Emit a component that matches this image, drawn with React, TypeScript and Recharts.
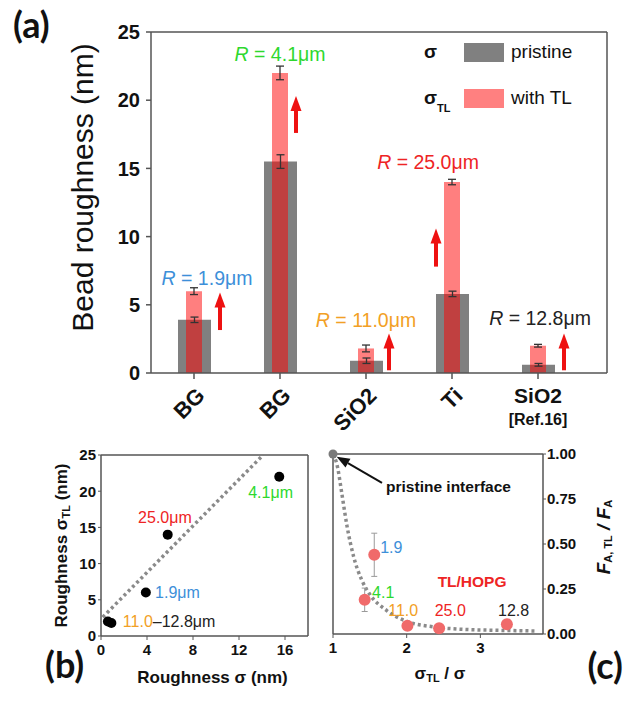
import React from "react";
import {
  Bar,
  ComposedChart,
  ErrorBar,
  Legend,
  Line,
  ReferenceLine,
  Scatter,
  XAxis,
  YAxis,
} from "recharts";

const FONT = "'Liberation Sans', Arial, sans-serif";
const AXIS = "#555";
const INK = "#111";

// (a) bead roughness, one entry per bead
const samples = ["BG", "BG", "SiO2", "Ti", "SiO2"];
const sampleNotes = ["", "", "", "", "[Ref.16]"];
const pristine = [3.9, 15.5, 0.9, 5.8, 0.6];
const pristineErr = [0.2, 0.5, 0.2, 0.2, 0.1];
const withTL = [6.0, 22.0, 1.8, 14.0, 2.0];
const withTLErr = [0.25, 0.5, 0.25, 0.2, 0.1];
const beadR = ["1.9", "4.1", "11.0", "25.0", "12.8"];
const rColors = ["#3d8fd9", "#2ed82e", "#f2a025", "#ee2424", "#222222"];
const arrowFrom = [3.15, 17.6, 0.2, 7.8, 0.2];
const arrowTo = [5.9, 20.3, 2.9, 10.6, 2.9];
const rLabelAt = [7.0, 23.4, 3.9, 15.5, 4.0];
const yTicksA = [0, 5, 10, 15, 20, 25];
const minorA = [2.5, 5, 7.5, 10, 12.5, 15, 17.5, 20, 22.5];
const halfSlots = [0.5, 1, 1.5, 2, 2.5, 3, 3.5, 4, 4.5, 5];

// pixel nudges for the annotations (style only)
const arrowDx = [26, 16, 23, -16, 26];
const labelDx = [13, 0, 0, -24, 2];

// (b) fit line
const fitSigma = [0.15, 14.1];
const fitSigmaTL = [2.6, 25];
const xTicksB = [0, 4, 8, 12, 16];

// (c) adhesion force ratio vs roughness ratio (R = 1.9, 4.1, 11.0, 25.0, 12.8)
const roughRatio = [1.56, 1.43, 2.01, 2.44, 3.36];
const forceRatio = [0.44, 0.19, 0.046, 0.032, 0.054];
const forceErr = [0.12, 0.065, 0.012, 0.01, 0.015];
const curveX = [1.0, 1.06, 1.12, 1.19, 1.28, 1.39, 1.5, 1.73, 2.0, 2.36, 2.81, 3.3, 3.75];
const curveY = [1.0, 0.93, 0.78, 0.6, 0.43, 0.3, 0.22, 0.13, 0.07, 0.04, 0.025, 0.02, 0.017];
const yTicksC = [0, 0.25, 0.5, 0.75, 1];

const dataA = samples.map((name, i) => ({
  name,
  i,
  slot: i + 0.5,
  pristine: pristine[i],
  pErr: pristineErr[i],
  tl: withTL[i],
  tlErr: withTLErr[i],
  arrow: [arrowFrom[i], arrowTo[i]],
  labelY: rLabelAt[i],
}));

const pointsB = pristine.map((x, i) => ({ x, y: withTL[i] }));
const fitB = fitSigma.map((x, i) => ({ x, y: fitSigmaTL[i] }));
const colorOf = (r: string) => rColors[beadR.indexOf(r)];

const labelsB = [
  { x: 5.56, y: 16.4, anchor: "middle", parts: [["25.0μm", colorOf("25.0")]] },
  { x: 12.8, y: 19.9, anchor: "start", parts: [["4.1μm", colorOf("4.1")]] },
  { x: 4.7, y: 6.1, anchor: "start", parts: [["1.9μm", colorOf("1.9")]] },
  { x: 1.9, y: 2.1, anchor: "start", parts: [["11.0", colorOf("11.0")], ["–12.8μm", colorOf("12.8")]] },
];

const pointsC = roughRatio.map((x, i) => ({ x, y: forceRatio[i], err: forceErr[i] }));
const curveC = curveX.map((x, i) => ({ x, y: curveY[i] }));
const labelsC = [
  { x: 1.64, y: 0.478, text: "1.9", color: colorOf("1.9"), bold: false },
  { x: 1.53, y: 0.233, text: "4.1", color: colorOf("4.1"), bold: false },
  { x: 1.75, y: 0.133, text: "11.0", color: colorOf("11.0"), bold: false },
  { x: 2.38, y: 0.133, text: "25.0", color: colorOf("25.0"), bold: false },
  { x: 3.24, y: 0.133, text: "12.8", color: colorOf("12.8"), bold: false },
  { x: 2.42, y: 0.29, text: "TL/HOPG", color: "#ee2424", bold: true },
  { x: 1.72, y: 0.82, text: "pristine interface", color: INK, bold: true },
];

function ArrowShape(props: any) {
  const { x, y, width, height, payload } = props;
  const cx = x + width / 2 + arrowDx[payload.i];
  const head = 15;
  return (
    <g fill="#ee1111">
      <rect x={cx - 2} y={y + head - 1} width={4} height={Math.max(0, height - head + 1)} />
      <polygon points={`${cx - 5.5},${y + head} ${cx},${y} ${cx + 5.5},${y + head}`} />
    </g>
  );
}

function RLabel(props: any) {
  const { cx, cy, payload } = props;
  const i = payload.i;
  return (
    <text
      x={cx + labelDx[i]}
      y={cy}
      textAnchor="middle"
      dominantBaseline="central"
      fontSize={19.5}
      fill={rColors[i]}
    >
      <tspan fontStyle="italic">R</tspan>
      <tspan>{` = ${beadR[i]}μm`}</tspan>
    </text>
  );
}

function SampleTick(props: any) {
  const { x, y, index } = props;
  const name = samples[index];
  if (sampleNotes[index]) {
    return (
      <g fontWeight={700} fill={INK} textAnchor="middle">
        <text x={x} y={y + 23} fontSize={21}>{name}</text>
        <text x={x} y={y + 45} fontSize={16}>{sampleNotes[index]}</text>
      </g>
    );
  }
  const ax = x + 12;
  const ay = y + 17;
  return (
    <text
      x={ax}
      y={ay}
      transform={`rotate(-45 ${ax} ${ay})`}
      textAnchor="end"
      fontSize={22}
      fontWeight={700}
      fill={INK}
    >
      {name}
    </text>
  );
}

const legendRows = [
  { sub: "", fill: "#808080", text: "pristine" },
  { sub: "TL", fill: "#ff8080", text: "with TL" },
];

function LegendA() {
  return (
    <div style={{ display: "flex", flexDirection: "column", gap: 18, fontFamily: FONT }}>
      {legendRows.map((r) => (
        <div key={r.text} style={{ display: "flex", alignItems: "center", height: 28 }}>
          <div style={{ width: 40, fontSize: 19, fontWeight: 700, color: INK, paddingLeft: 6 }}>
            σ
            {r.sub && (
              <span style={{ fontSize: 11, position: "relative", top: 8 }}>{r.sub}</span>
            )}
          </div>
          <div style={{ width: 40, height: 19, background: r.fill }} />
          <div style={{ marginLeft: 7, fontSize: 19, color: INK }}>{r.text}</div>
        </div>
      ))}
    </div>
  );
}

function TextMark(props: any) {
  const { cx, cy, payload } = props;
  return (
    <text x={cx} y={cy} textAnchor={payload.anchor} dominantBaseline="central" fontSize={16}>
      {payload.parts.map(([t, c]: [string, string]) => (
        <tspan key={t} fill={c}>
          {t}
        </tspan>
      ))}
    </text>
  );
}

function TextMarkC(props: any) {
  const { cx, cy, payload } = props;
  return (
    <text
      x={cx}
      y={cy}
      dominantBaseline="central"
      fontSize={payload.bold ? 15.5 : 16}
      fontWeight={payload.bold ? 700 : 400}
      fill={payload.color}
    >
      {payload.text}
    </text>
  );
}

function Dot(props: any) {
  const { cx, cy, fill, r = 5 } = props;
  return <circle cx={cx} cy={cy} r={r} fill={fill} />;
}

function PointerShape(props: any) {
  const { x1, y1, x2, y2 } = props;
  const ang = Math.atan2(y2 - y1, x2 - x1);
  const len = 13;
  const w = 5;
  const bx = x2 - len * Math.cos(ang);
  const by = y2 - len * Math.sin(ang);
  const nx = -Math.sin(ang) * w;
  const ny = Math.cos(ang) * w;
  return (
    <g>
      <line x1={x1} y1={y1} x2={bx} y2={by} stroke="#111" strokeWidth={2} />
      <polygon points={`${x2},${y2} ${bx + nx},${by + ny} ${bx - nx},${by - ny}`} fill="#111" />
    </g>
  );
}

const tickBold = (size: number) => ({ fontSize: size, fontWeight: 700, fill: INK });
const axisLine = { stroke: AXIS, strokeWidth: 1.5 };

export default function App() {
  return (
    <div
      style={{
        position: "absolute",
        left: 0,
        top: 0,
        width: 624,
        height: 704,
        background: "#fff",
        fontFamily: FONT,
      }}
    >
      {/* (a) */}
      <div style={{ position: "absolute", left: 0, top: 0 }}>
        <ComposedChart width={624} height={450} data={dataA} margin={{ top: 32, right: 17, bottom: 0, left: 0 }}>
          <XAxis
            xAxisId="a"
            dataKey="name"
            height={77}
            interval={0}
            padding={{ left: 0, right: 26 }}
            axisLine={axisLine}
            tickLine={{ stroke: AXIS, strokeWidth: 1.5 }}
            tickSize={6}
            tickMargin={1}
            tick={<SampleTick />}
          />
          <XAxis xAxisId="tl" dataKey="name" hide padding={{ left: 0, right: 26 }} />
          <XAxis xAxisId="arr" dataKey="name" hide padding={{ left: 0, right: 26 }} />
          <XAxis
            xAxisId="top"
            dataKey="slot"
            type="number"
            orientation="top"
            domain={[0, 5.3]}
            ticks={halfSlots}
            height={1}
            mirror
            axisLine={axisLine}
            tickLine={{ stroke: AXIS, strokeWidth: 1.2 }}
            tickSize={5}
            tick={false}
          />
          <YAxis
            yAxisId="l"
            width={151}
            domain={[0, 25]}
            ticks={yTicksA}
            axisLine={axisLine}
            tickLine={{ stroke: AXIS, strokeWidth: 1.5 }}
            tickSize={5}
            tickMargin={6}
            tick={tickBold(20)}
            label={(p: any) => {
              const vb = p.viewBox;
              const cx = vb.x + 82;
              const cy = vb.y + vb.height / 2 - 15;
              return (
                <text
                  x={cx}
                  y={cy}
                  transform={`rotate(-90 ${cx} ${cy})`}
                  textAnchor="middle"
                  dominantBaseline="central"
                  fontSize={30}
                  fill={INK}
                >
                  Bead roughness (nm)
                </text>
              );
            }}
          />
          <YAxis
            yAxisId="r"
            orientation="right"
            width={1}
            domain={[0, 25]}
            ticks={minorA}
            mirror
            axisLine={axisLine}
            tickLine={{ stroke: AXIS, strokeWidth: 1.2 }}
            tickSize={5}
            tick={false}
          />
          <Legend
            layout="vertical"
            align="center"
            verticalAlign="middle"
            wrapperStyle={{ top: 38, left: 418, width: 200, height: 80 }}
            content={<LegendA />}
          />
          <Bar
            xAxisId="a"
            yAxisId="l"
            dataKey="pristine"
            name="pristine"
            fill="#808080"
            barSize={33}
            isAnimationActive={false}
          >
            <ErrorBar dataKey="pErr" width={4} stroke="#333" strokeWidth={1.3} isAnimationActive={false} />
          </Bar>
          <Bar
            xAxisId="tl"
            yAxisId="l"
            dataKey="tl"
            name="with TL"
            fill="#ff0000"
            fillOpacity={0.5}
            barSize={16}
            isAnimationActive={false}
          >
            <ErrorBar dataKey="tlErr" width={4} stroke="#333" strokeWidth={1.3} isAnimationActive={false} />
          </Bar>
          <Bar
            xAxisId="arr"
            yAxisId="l"
            dataKey="arrow"
            legendType="none"
            barSize={10}
            shape={<ArrowShape />}
            isAnimationActive={false}
          />
          <Scatter
            xAxisId="a"
            yAxisId="l"
            dataKey="labelY"
            legendType="none"
            shape={<RLabel />}
            isAnimationActive={false}
          />
        </ComposedChart>
      </div>

      {/* (b) */}
      <div style={{ position: "absolute", left: 0, top: 440 }}>
        <ComposedChart width={330} height={264} margin={{ top: 15, right: 22, bottom: 0, left: 0 }}>
          <XAxis
            xAxisId="b"
            dataKey="x"
            type="number"
            domain={[0, 18]}
            ticks={xTicksB}
            height={68}
            axisLine={axisLine}
            tickLine={{ stroke: AXIS }}
            tickSize={4}
            tickMargin={4}
            tick={tickBold(15)}
            label={(p: any) => {
              const vb = p.viewBox;
              return (
                <text
                  x={vb.x + vb.width / 2 + 8}
                  y={237}
                  textAnchor="middle"
                  dominantBaseline="central"
                  fontSize={17}
                  fontWeight={700}
                  fill={INK}
                >
                  Roughness σ (nm)
                </text>
              );
            }}
          />
          <XAxis
            xAxisId="bt"
            type="number"
            dataKey="x"
            orientation="top"
            domain={[0, 18]}
            ticks={[2, 4, 6, 8, 10, 12, 14, 16]}
            height={1}
            mirror
            axisLine={axisLine}
            tickLine={{ stroke: AXIS }}
            tickSize={4}
            tick={false}
          />
          <YAxis
            yAxisId="b"
            width={101}
            domain={[0, 25]}
            ticks={yTicksA}
            axisLine={axisLine}
            tickLine={{ stroke: AXIS }}
            tickSize={3}
            tickMargin={2}
            tick={tickBold(15)}
            label={(p: any) => {
              const vb = p.viewBox;
              const cx = vb.x + 61;
              const cy = vb.y + vb.height / 2;
              return (
                <text
                  x={cx}
                  y={cy}
                  transform={`rotate(-90 ${cx} ${cy})`}
                  textAnchor="middle"
                  dominantBaseline="central"
                  fontSize={17}
                  fontWeight={700}
                  fill={INK}
                >
                  <tspan>Roughness  σ</tspan>
                  <tspan fontSize={11} dy={5}>TL</tspan>
                  <tspan dy={-5}>  (nm)</tspan>
                </text>
              );
            }}
          />
          <YAxis
            yAxisId="br"
            orientation="right"
            width={1}
            domain={[0, 25]}
            ticks={minorA}
            mirror
            axisLine={axisLine}
            tickLine={{ stroke: AXIS }}
            tickSize={4}
            tick={false}
          />
          <Line
            xAxisId="b"
            yAxisId="b"
            data={fitB}
            dataKey="y"
            type="linear"
            stroke="#8a8a8a"
            strokeWidth={3.5}
            strokeDasharray="3 3"
            dot={false}
            activeDot={false}
            isAnimationActive={false}
          />
          <Scatter
            xAxisId="b"
            yAxisId="b"
            data={pointsB}
            dataKey="y"
            fill="#000"
            shape={<Dot r={5} />}
            isAnimationActive={false}
          />
          <Scatter
            xAxisId="b"
            yAxisId="b"
            data={labelsB}
            dataKey="y"
            shape={<TextMark />}
            isAnimationActive={false}
          />
        </ComposedChart>
      </div>

      {/* (c) */}
      <div style={{ position: "absolute", left: 300, top: 440 }}>
        <ComposedChart width={324} height={264} margin={{ top: 14, right: 0, bottom: 0, left: 33 }}>
          <XAxis
            xAxisId="c"
            dataKey="x"
            type="number"
            domain={[1, 3.85]}
            ticks={[1, 2, 3]}
            height={70}
            axisLine={axisLine}
            tickLine={{ stroke: AXIS }}
            tickSize={4}
            tickMargin={4}
            tick={tickBold(15)}
            label={(p: any) => {
              const vb = p.viewBox;
              return (
                <text
                  x={vb.x + vb.width / 2 + 2}
                  y={233}
                  textAnchor="middle"
                  dominantBaseline="central"
                  fontSize={17}
                  fontWeight={700}
                  fill={INK}
                >
                  <tspan>σ</tspan>
                  <tspan fontSize={11} dy={5}>TL</tspan>
                  <tspan dy={-5}> / σ</tspan>
                </text>
              );
            }}
          />
          <XAxis
            xAxisId="ct"
            type="number"
            dataKey="x"
            orientation="top"
            domain={[1, 3.85]}
            ticks={[1.5, 2, 2.5, 3, 3.5]}
            height={1}
            mirror
            axisLine={axisLine}
            tickLine={{ stroke: AXIS }}
            tickSize={4}
            tick={false}
          />
          <YAxis
            yAxisId="cl"
            width={1}
            domain={[0, 1]}
            ticks={[0.125, 0.25, 0.375, 0.5, 0.625, 0.75, 0.875]}
            mirror
            axisLine={axisLine}
            tickLine={{ stroke: AXIS }}
            tickSize={4}
            tick={false}
          />
          <YAxis
            yAxisId="c"
            orientation="right"
            width={81}
            domain={[0, 1]}
            ticks={yTicksC}
            tickFormatter={(v: number) => v.toFixed(2)}
            axisLine={axisLine}
            tickLine={{ stroke: AXIS }}
            tickSize={3}
            tickMargin={1}
            tick={tickBold(15)}
            label={(p: any) => {
              const vb = p.viewBox;
              const cx = vb.x + 60;
              const cy = vb.y + vb.height / 2 - 7;
              return (
                <text
                  x={cx}
                  y={cy}
                  transform={`rotate(-90 ${cx} ${cy})`}
                  textAnchor="middle"
                  dominantBaseline="central"
                  fontSize={19}
                  fontWeight={700}
                  fontStyle="italic"
                  fill={INK}
                >
                  <tspan>F</tspan>
                  <tspan fontSize={11} fontStyle="normal" dy={5}>A, TL</tspan>
                  <tspan dy={-5}>  / F</tspan>
                  <tspan fontSize={11} fontStyle="normal" dy={5}>A</tspan>
                </text>
              );
            }}
          />
          <Line
            xAxisId="c"
            yAxisId="c"
            data={curveC}
            dataKey="y"
            type="monotone"
            stroke="#8a8a8a"
            strokeWidth={3.5}
            strokeDasharray="3 3"
            dot={false}
            activeDot={false}
            isAnimationActive={false}
          />
          <Scatter
            xAxisId="c"
            yAxisId="c"
            data={pointsC}
            dataKey="y"
            fill="#f06a6a"
            fillOpacity={0.75}
            shape={<Dot r={6} />}
            isAnimationActive={false}
          >
            <ErrorBar dataKey="err" direction="y" width={3} stroke="#9a9a9a" strokeWidth={1} isAnimationActive={false} />
          </Scatter>
          <Scatter
            xAxisId="c"
            yAxisId="c"
            data={[{ x: 1, y: 1 }]}
            dataKey="y"
            fill="#7a7a7a"
            shape={<Dot r={4.5} />}
            isAnimationActive={false}
          />
          <ReferenceLine
            xAxisId="c"
            yAxisId="c"
            segment={[
              { x: 1.665, y: 0.84 },
              { x: 1.05, y: 0.985 },
            ]}
            shape={<PointerShape />}
          />
          <Scatter
            xAxisId="c"
            yAxisId="c"
            data={labelsC}
            dataKey="y"
            shape={<TextMarkC />}
            isAnimationActive={false}
          />
        </ComposedChart>
      </div>

      {/* panel letters */}
      <svg
        width={624}
        height={704}
        style={{ position: "absolute", left: 0, top: 0, pointerEvents: "none" }}
        fontFamily="Lato, 'Open Sans', sans-serif"
        fontWeight={700}
        fontSize={36}
        fill={INK}
      >
        <text x={13} y={38}>(a)</text>
        <text x={45} y={678}>(b)</text>
        <text x={623} y={679} textAnchor="end">(c)</text>
      </svg>
    </div>
  );
}
